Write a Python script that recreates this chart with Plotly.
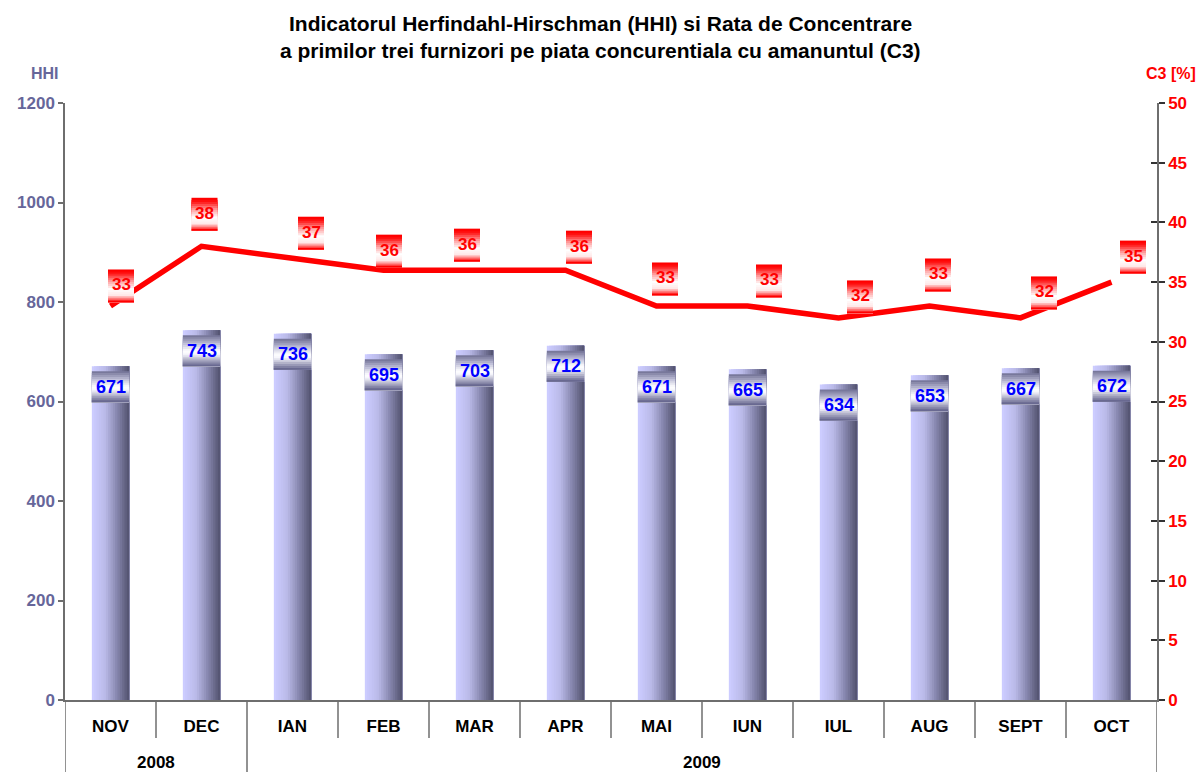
import plotly.graph_objects as go

# ---------------- data ----------------
months = ["NOV", "DEC", "IAN", "FEB", "MAR", "APR", "MAI", "IUN", "IUL", "AUG", "SEPT", "OCT"]
hhi = [671, 743, 736, 695, 703, 712, 671, 665, 634, 653, 667, 672]
c3 = [33, 38, 37, 36, 36, 36, 33, 33, 32, 33, 32, 35]
years = ["2008", "2009"]
year_first = [0, 2]   # index of first month of each year
year_last = [1, 11]   # index of last month of each year
title_lines = ["Indicatorul Herfindahl-Hirschman (HHI) si Rata de Concentrare",
               "a primilor trei furnizori pe piata concurentiala cu amanuntul (C3)"]

# ---------------- style ----------------
FONT = "Liberation Sans, Arial, sans-serif"
HHI_COL = "#66669a"
RED = "#ff0000"
AX_COL = "#6e6e6e"
BAR_W = 0.41  # fraction of category
# manual label offsets (px) of C3 data labels, relative to the point
c3_dx = [10.5, 3, 18.5, 5.5, -7.5, 13.5, 8.5, 21.5, 21.5, 8.5, 23.5, 21.5]
c3_dy = [20, 32, 25, 19, 25, 23, 27, 25, 21, 31, 25, 25]

W, H = 1200, 772
L, R, T, B = 65, 43, 103, 72
PW, PH = W - L - R, H - T - B


def px_to_paper(x, y):
    return (x - L) / PW, (H - B - y) / PH


def interp(stops, t):
    for (t0, c0), (t1, c1) in zip(stops[:-1], stops[1:]):
        if t0 <= t <= t1:
            f = 0 if t1 == t0 else (t - t0) / (t1 - t0)
            return "rgb(%d,%d,%d)" % tuple(round(a + (b - a) * f) for a, b in zip(c0, c1))
    return "rgb(%d,%d,%d)" % stops[-1][1]


bar_stops = [(0, (204, 204, 255)), (0.35, (185, 185, 232)), (0.65, (140, 140, 180)), (1, (86, 86, 116))]
hhi_box_stops = [(0, (120, 120, 155)), (0.25, (190, 190, 215)), (0.5, (255, 255, 255)),
                 (0.62, (245, 245, 252)), (1, (105, 105, 145))]
c3_box_stops = [(0, (255, 0, 0)), (0.1, (255, 20, 20)), (0.35, (255, 160, 160)), (0.6, (255, 255, 255)),
                (0.8, (255, 232, 232)), (0.92, (255, 120, 120)), (1, (255, 0, 0))]

fig = go.Figure()

# bars drawn as overlapping vertical strips to give a horizontal gradient
N = 16
for i in range(N):
    t = i / (N - 1)
    fig.add_trace(go.Bar(
        x=months, y=hhi, width=BAR_W * (1 - i / N), offset=-BAR_W / 2 + BAR_W * i / N,
        marker=dict(color=interp(bar_stops, t), line=dict(width=0)),
        showlegend=False, hoverinfo="skip", yaxis="y",
    ))

fig.add_trace(go.Scatter(
    x=months, y=c3, mode="lines", yaxis="y2",
    line=dict(color=RED, width=5.5), showlegend=False, hoverinfo="skip",
))
# empty trace so the crossing-tick axis is drawn
fig.add_trace(go.Scatter(x=[months[0]], y=[None], yaxis="y3", mode="lines",
                         showlegend=False, hoverinfo="skip"))

shapes = []
annotations = []

# HHI label boxes (vertical gradient) anchored to bar tops
M = 16
BOX_TOP, BOX_BOT = -5, -36
for k, (m, v) in enumerate(zip(months, hhi)):
    for j in range(M):
        t = j / (M - 1)
        top = BOX_TOP + (BOX_BOT - BOX_TOP) * j / M
        shapes.append(dict(
            type="rect", xref="x", yref="y", ysizemode="pixel", yanchor=v,
            x0=k - BAR_W / 2, x1=k + BAR_W / 2, y0=top, y1=BOX_BOT,
            fillcolor=interp(hhi_box_stops, t), line=dict(width=0), layer="above",
        ))
    annotations.append(dict(
        x=m, y=v, xref="x", yref="y", text="<b>%d</b>" % v, showarrow=False,
        yshift=(BOX_TOP + BOX_BOT) / 2, yanchor="middle",
        font=dict(family=FONT, size=18, color="#0000ff"),
    ))

# C3 label boxes
BW, BH = 26, 33
for k, (m, v) in enumerate(zip(months, c3)):
    dx, dy = c3_dx[k], c3_dy[k]
    for j in range(M):
        t = j / (M - 1)
        top = dy + BH / 2 - BH * j / M
        shapes.append(dict(
            type="rect", xref="x", yref="y2", xsizemode="pixel", ysizemode="pixel",
            xanchor=k, yanchor=v, x0=dx - BW / 2, x1=dx + BW / 2,
            y0=top, y1=dy - BH / 2,
            fillcolor=interp(c3_box_stops, t), line=dict(width=0), layer="above",
        ))
    annotations.append(dict(
        x=m, y=v, xref="x", yref="y2", text="<b>%d</b>" % v, showarrow=False,
        xshift=dx, yshift=dy + 1, yanchor="middle",
        font=dict(family=FONT, size=17, color=RED),
    ))

# category dividers below the x axis
for k in range(1, len(months)):
    is_group = k in year_first
    shapes.append(dict(
        type="line", xref="x", yref="paper", ysizemode="pixel", yanchor=0,
        x0=k - 0.5, x1=k - 0.5, y0=0, y1=-80 if is_group else -38,
        line=dict(color=AX_COL, width=1.5),
    ))
for xe in (-0.5, len(months) - 0.5):
    shapes.append(dict(
        type="line", xref="x", yref="paper", ysizemode="pixel", yanchor=0,
        x0=xe, x1=xe, y0=0, y1=-80, line=dict(color=AX_COL, width=1.5),
    ))

# year labels
for yname, a, b in zip(years, year_first, year_last):
    annotations.append(dict(
        x=(a + b) / 2, y=0, xref="x", yref="paper", text="<b>%s</b>" % yname,
        showarrow=False, yshift=-62, yanchor="middle",
        font=dict(family=FONT, size=17, color="black"),
    ))

# title lines and axis titles (pixel positions converted to paper coords)
for text, (xp, yp), size, col in [
    (title_lines[0], (600, 23), 21, "black"),
    (title_lines[1], (600, 51), 21, "black"),
    ("HHI", (45, 73), 16, HHI_COL),
    ("C3 [%]", (1171, 73), 16, RED),
]:
    px, py = px_to_paper(xp, yp)
    annotations.append(dict(
        x=px, y=py, xref="paper", yref="paper", text="<b>%s</b>" % text, showarrow=False,
        xanchor="center", yanchor="middle", font=dict(family=FONT, size=size, color=col),
    ))

fig.update_layout(
    width=W, height=H,
    margin=dict(l=L, r=R, t=T, b=B),
    paper_bgcolor="white", plot_bgcolor="white",
    barmode="overlay",
    xaxis=dict(
        type="category", showline=True, linecolor=AX_COL, linewidth=1.5,
        ticks="", showgrid=False, zeroline=False, ticklabelstandoff=10,
        tickfont=dict(family=FONT, size=17, color="black", weight="bold"),
        range=[-0.5, len(months) - 0.5],
    ),
    yaxis=dict(
        range=[0, 1200], dtick=200, showline=True, linecolor=AX_COL, linewidth=1.5,
        ticks="outside", ticklen=5, tickcolor=AX_COL, tickwidth=1.5,
        showgrid=False, zeroline=False,
        tickfont=dict(family=FONT, size=17, color=HHI_COL, weight="bold"),
    ),
    yaxis2=dict(
        range=[0, 50], dtick=5, overlaying="y", side="right", anchor="x",
        showline=True, linecolor=AX_COL, linewidth=1.5,
        ticks="outside", ticklen=6, tickcolor="#333", tickwidth=1.5,
        showgrid=False, zeroline=False,
        tickfont=dict(family=FONT, size=17, color=RED, weight="bold"),
    ),
    yaxis3=dict(
        range=[0, 50], dtick=5, overlaying="y", side="right", anchor="x",
        showline=False, ticks="inside", ticklen=6, tickcolor="#333", tickwidth=1.5,
        showticklabels=False, showgrid=False, zeroline=False,
    ),
    shapes=shapes,
    annotations=annotations,
)

fig.write_html("out.html", config={"displayModeBar": False},
               post_script="document.body.style.margin='0';")
